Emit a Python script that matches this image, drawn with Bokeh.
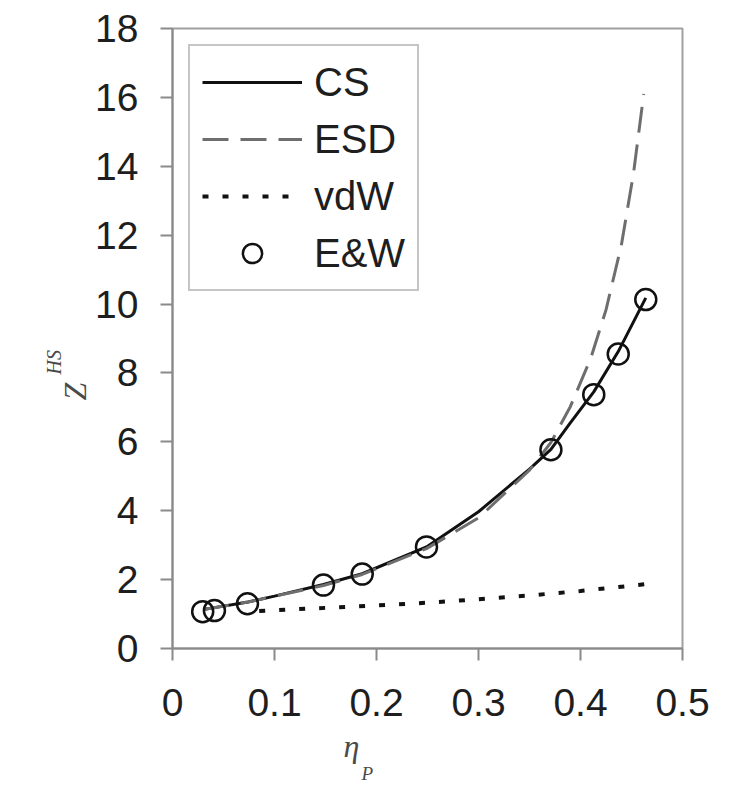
from bokeh.plotting import figure
from bokeh.models import Range1d, FixedTicker, Legend, LegendItem, Title
from bokeh.embed import file_html
from bokeh.resources import INLINE

# Compressibility factor of hard spheres versus packing fraction

# Carnahan-Starling (CS)
eta_cs = [0.03, 0.04, 0.074, 0.10, 0.148, 0.186, 0.249, 0.30, 0.35, 0.371, 0.39, 0.413, 0.437, 0.464]
z_cs = [1.13, 1.18, 1.35, 1.52, 1.86, 2.17, 2.95, 3.97, 5.21, 5.78, 6.55, 7.45, 8.62, 10.18]

# Elliott-Suresh-Donohue (ESD)
eta_esd = [0.03, 0.074, 0.148, 0.186, 0.249, 0.30, 0.35, 0.371, 0.39, 0.41, 0.425, 0.44, 0.452, 0.462]
z_esd = [1.13, 1.35, 1.83, 2.15, 2.90, 3.79, 5.18, 5.98, 7.02, 8.42, 9.83, 11.70, 13.80, 16.10]

# van der Waals repulsion (vdW)
eta_vdw = [0.085, 0.10, 0.15, 0.20, 0.25, 0.30, 0.35, 0.40, 0.465]
z_vdw = [1.09, 1.11, 1.18, 1.25, 1.33, 1.43, 1.54, 1.67, 1.87]

# Erpenbeck & Wood simulation data (E&W)
eta_ew = [0.0296, 0.0411, 0.0735, 0.148, 0.186, 0.249, 0.371, 0.413, 0.437, 0.464]
z_ew = [1.07, 1.10, 1.30, 1.84, 2.16, 2.95, 5.77, 7.37, 8.55, 10.13]

x_ticks = [0, 0.1, 0.2, 0.3, 0.4, 0.5]
x_tick_labels = ["0", "0.1", "0.2", "0.3", "0.4", "0.5"]
y_ticks = [0, 2, 4, 6, 8, 10, 12, 14, 16, 18]

AXIS_GREY = "#8a8a8a"
TEXT = "#1e1e1e"
SANS = "Liberation Sans"
SERIF = "Liberation Serif"
LABEL_GREY = "#4a4a4a"

p = figure(
    width=729, height=798,
    x_range=Range1d(0, 0.5), y_range=Range1d(0, 18),
    output_backend="svg", toolbar_location=None,
    min_border_left=172, min_border_right=47,
    min_border_top=28, min_border_bottom=150,
    background_fill_color="white", border_fill_color="white",
)
p.grid.visible = False
p.outline_line_color = "#a0a0a0"
p.outline_line_width = 2

for ax in (p.xaxis[0], p.yaxis[0]):
    ax.axis_line_color = AXIS_GREY
    ax.axis_line_width = 2
    ax.major_tick_line_color = AXIS_GREY
    ax.major_tick_line_width = 2
    ax.major_tick_out = 12
    ax.major_tick_in = 0
    ax.minor_tick_line_color = None
    ax.major_label_text_font = SANS
    ax.major_label_text_font_size = "39px"
    ax.major_label_text_color = TEXT

p.xaxis.ticker = FixedTicker(ticks=x_ticks)
p.xaxis.major_label_overrides = dict(zip(x_ticks, x_tick_labels))
p.xaxis.major_label_standoff = 28
p.yaxis.ticker = FixedTicker(ticks=y_ticks)
p.yaxis.major_label_standoff = 22

r_cs = p.line(eta_cs, z_cs, line_color="#111111", line_width=3)
r_esd = p.line(eta_esd, z_esd, line_color="#6e6e6e", line_width=3, line_dash="26 12")
r_vdw = p.line(eta_vdw, z_vdw, line_color="#111111", line_width=4, line_dash="6 14")
r_ew = p.scatter(eta_ew, z_ew, marker="circle", size=21, fill_alpha=0,
                 line_color="#111111", line_width=2.5)

legend = Legend(
    items=[
        LegendItem(label="CS", renderers=[r_cs]),
        LegendItem(label="ESD", renderers=[r_esd]),
        LegendItem(label="vdW", renderers=[r_vdw]),
        LegendItem(label="E&W", renderers=[r_ew]),
    ],
    location="top_left",
    margin=16,
    padding=12,
    spacing=9,
    glyph_width=100,
    glyph_height=48,
    label_height=48,
    label_standoff=12,
    label_text_font=SANS,
    label_text_font_size="40px",
    label_text_color=TEXT,
    label_text_baseline="middle",
    border_line_color="#8c8c8c",
    border_line_width=2,
    background_fill_color="white",
    background_fill_alpha=1,
)
p.add_layout(legend, "center")

# Axis titles as side-panel titles: Z with superscript HS, eta with subscript P
def side_title(text, size, offset, standoff):
    return Title(text=text, align="left", offset=offset, standoff=standoff,
                 text_font=SERIF, text_font_style="italic", text_font_size=size,
                 text_color=LABEL_GREY)

p.add_layout(side_title("Z", "32px", 248, 0), "left")
p.add_layout(side_title("HS", "20px", 274, -20), "left")
p.add_layout(side_title("η", "32px", 171, 14), "below")
p.add_layout(side_title("P", "19px", 189, -19), "below")

open("out.html", "w").write(file_html(p, INLINE))
